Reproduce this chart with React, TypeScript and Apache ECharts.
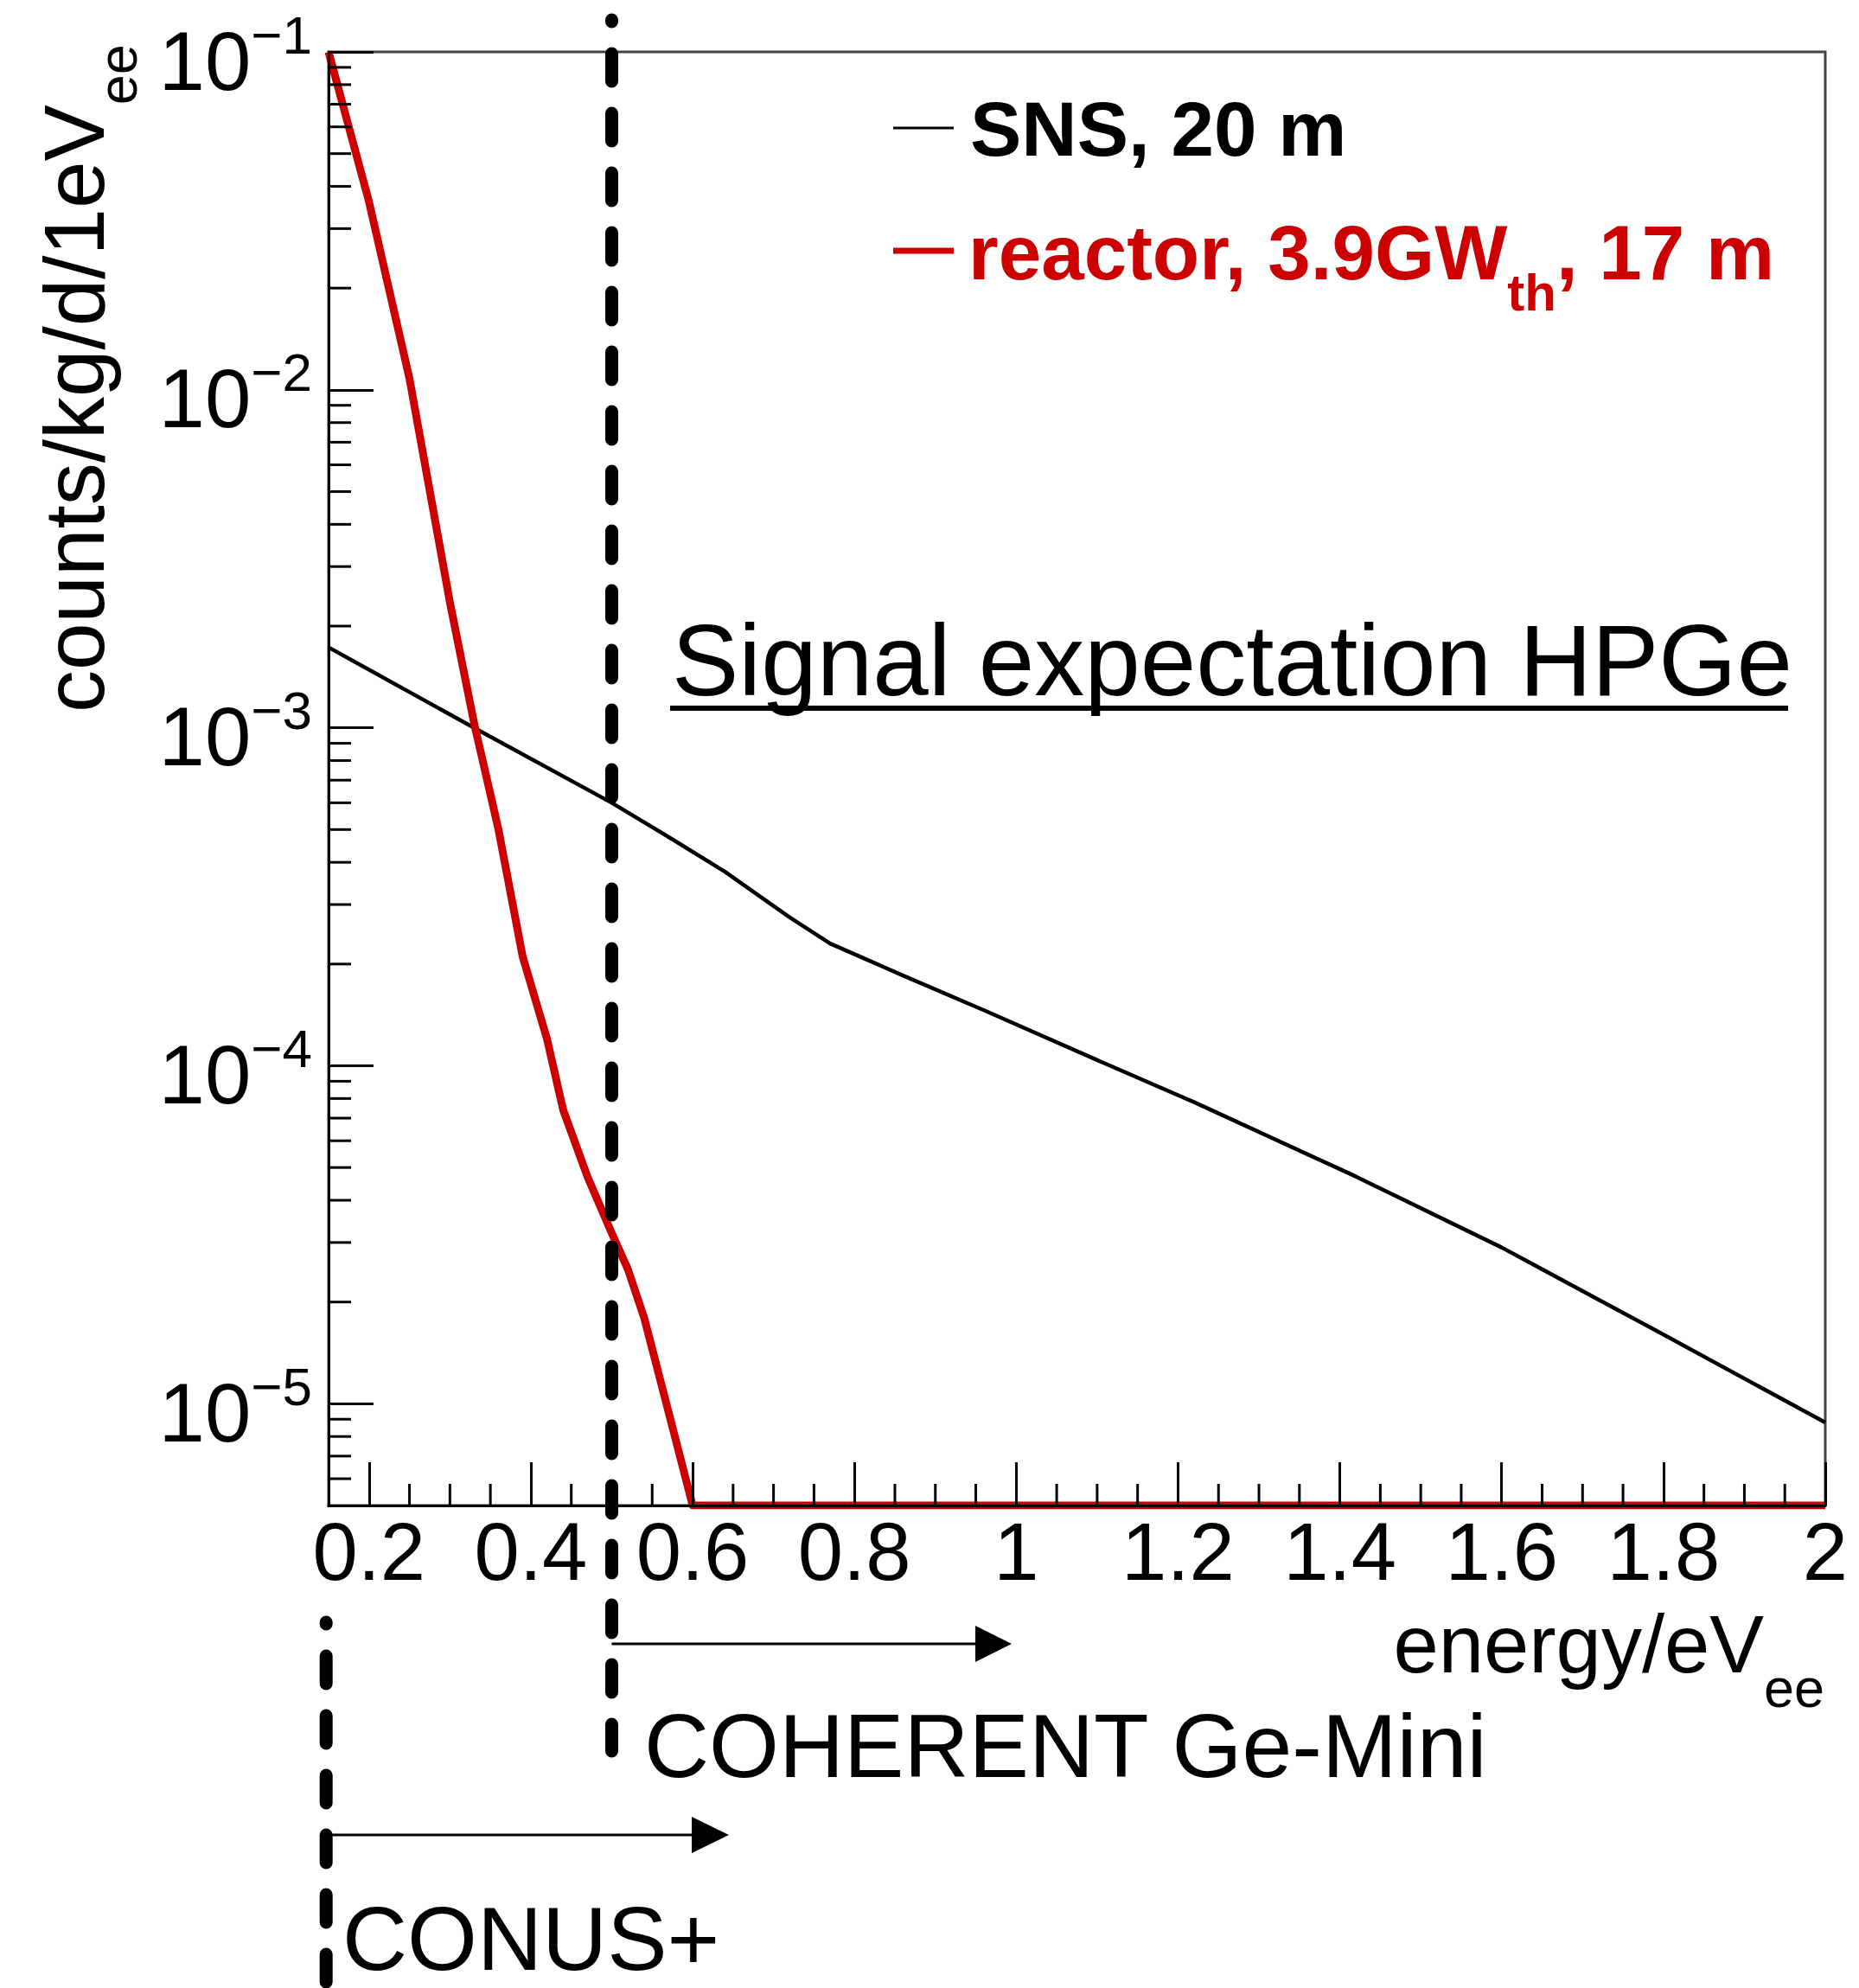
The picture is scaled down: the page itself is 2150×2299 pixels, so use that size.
import React, { useEffect, useRef } from 'react';
import * as echarts from 'echarts';

const FONT = '"Liberation Sans", Arial, Helvetica, sans-serif';

const X_MIN = 0.15;
const X_MAX = 2.0;
const Y_MIN = 5e-6;
const Y_MAX = 0.1;

// SNS, 20 m (black curve)
const snsEnergy = [0.15, 0.33, 0.5, 0.58, 0.64, 0.72, 0.77, 0.86, 0.96, 1.1, 1.22, 1.42, 1.6, 1.79, 2.0];
const snsCounts = [1.73e-3, 1.0e-3, 6.0e-4, 4.6e-4, 3.75e-4, 2.75e-4, 2.3e-4, 1.85e-4, 1.46e-4, 1.04e-4, 7.8e-5, 4.7e-5, 2.9e-5, 1.65e-5, 8.8e-6];

// reactor, 3.9 GW_th, 17 m (red curve); 0 = empty bins, drawn on the axis floor
const reactorEnergy = [0.15, 0.2, 0.25, 0.3, 0.33, 0.36, 0.39, 0.42, 0.44, 0.47, 0.5, 0.52, 0.54, 0.57, 0.6, 2.0];
const reactorCounts = [0.1, 0.036, 0.0108, 2.35e-3, 1.03e-3, 5.0e-4, 2.1e-4, 1.2e-4, 7.4e-5, 4.7e-5, 3.2e-5, 2.5e-5, 1.8e-5, 9.5e-6, 0, 0];

// axis ticks
const xMajorTicks = [0.2, 0.4, 0.6, 0.8, 1.0, 1.2, 1.4, 1.6, 1.8, 2.0];
const xMinorTicks = [
  0.25, 0.3, 0.35, 0.45, 0.5, 0.55, 0.65, 0.7, 0.75, 0.85, 0.9, 0.95,
  1.05, 1.1, 1.15, 1.25, 1.3, 1.35, 1.45, 1.5, 1.55, 1.65, 1.7, 1.75, 1.85, 1.9, 1.95,
];
const yMinorTicks = [
  6e-6, 7e-6, 8e-6, 9e-6,
  2e-5, 3e-5, 4e-5, 5e-5, 6e-5, 7e-5, 8e-5, 9e-5,
  2e-4, 3e-4, 4e-4, 5e-4, 6e-4, 7e-4, 8e-4, 9e-4,
  2e-3, 3e-3, 4e-3, 5e-3, 6e-3, 7e-3, 8e-3, 9e-3,
  2e-2, 3e-2, 4e-2, 5e-2, 6e-2, 7e-2, 8e-2, 9e-2,
];

// detector thresholds (energy / keVee)
const COHERENT_THRESHOLD = 0.5;
const CONUS_THRESHOLD = 0.147;

const RED = '#cc0000';

function buildGraphic(xc: number, xn: number) {
  const dash = {
    stroke: '#000',
    lineWidth: 15,
    lineDash: [32, 37],
    lineCap: 'round',
    lineDashOffset: 30,
  };
  return [
    { type: 'line', z: 50, shape: { x1: xc, y1: 23, x2: xc, y2: 2025 }, style: dash },
    { type: 'line', z: 50, shape: { x1: xn, y1: 1876, x2: xn, y2: 2330 }, style: dash },
    // arrows
    { type: 'line', z: 50, shape: { x1: xc, y1: 1901, x2: 1132, y2: 1901 }, style: { stroke: '#000', lineWidth: 3 } },
    { type: 'polygon', z: 50, shape: { points: [[1128, 1880], [1170, 1901], [1128, 1922]] }, style: { fill: '#000' } },
    { type: 'line', z: 50, shape: { x1: xn, y1: 2122, x2: 804, y2: 2122 }, style: { stroke: '#000', lineWidth: 3 } },
    { type: 'polygon', z: 50, shape: { points: [[800, 2101], [843, 2122], [800, 2143]] }, style: { fill: '#000' } },
    // annotation texts
    {
      type: 'text', z: 50, x: 745, y: 2019,
      style: { text: 'COHERENT Ge-Mini', fontSize: 104, lineHeight: 80, fontFamily: FONT, fill: '#000', verticalAlign: 'middle', align: 'left' },
    },
    {
      type: 'text', z: 50, x: 396, y: 2242,
      style: { text: 'CONUS+', fontSize: 104, lineHeight: 72, fontFamily: FONT, fill: '#000', verticalAlign: 'middle', align: 'left' },
    },
    // title in plot
    {
      type: 'text', z: 50, x: 777, y: 764,
      style: { text: 'Signal expectation HPGe', fontSize: 116, fontFamily: FONT, fill: '#000', verticalAlign: 'middle', align: 'left' },
    },
    { type: 'rect', z: 50, shape: { x: 775, y: 816, width: 1293, height: 6 }, style: { fill: '#000' } },
    // legend
    { type: 'line', z: 50, shape: { x1: 1033, y1: 148, x2: 1103, y2: 148 }, style: { stroke: '#000', lineWidth: 3 } },
    {
      type: 'text', z: 50, x: 1122, y: 149,
      style: { text: 'SNS, 20 m', fontSize: 89, fontWeight: 'bold', fontFamily: FONT, fill: '#000', verticalAlign: 'middle', align: 'left' },
    },
    { type: 'line', z: 50, shape: { x1: 1033, y1: 290, x2: 1103, y2: 290 }, style: { stroke: RED, lineWidth: 7 } },
    {
      type: 'text', z: 50, x: 1120, y: 292,
      style: {
        text: '{a|reactor, 3.9GW}{s|th}{a|, 17 m}',
        verticalAlign: 'middle', align: 'left',
        rich: {
          a: { fontSize: 89, lineHeight: 89, fontWeight: 'bold', fontFamily: FONT, fill: RED, color: RED },
          s: { fontSize: 60, lineHeight: 60, fontWeight: 'bold', fontFamily: FONT, fill: RED, color: RED, padding: [92, 0, 0, 0] },
        },
      },
    },
    // x axis title (main text + subscript as separate texts)
    {
      type: 'text', z: 50, x: 2040, y: 1901,
      style: { text: 'energy/eV', fontSize: 94, lineHeight: 80, fontFamily: FONT, fill: '#000', verticalAlign: 'middle', align: 'right' },
    },
    {
      type: 'text', z: 50, x: 2110, y: 1952,
      style: { text: 'ee', fontSize: 63, lineHeight: 50, fontFamily: FONT, fill: '#000', verticalAlign: 'middle', align: 'right' },
    },
    // y axis title
    {
      type: 'text', z: 50, x: 86, y: 824, rotation: Math.PI / 2,
      style: {
        text: '{a|counts/kg/d/1eV}{s|ee}',
        verticalAlign: 'middle', align: 'left',
        rich: {
          a: { fontSize: 98, lineHeight: 98, fontFamily: FONT, fill: '#000', color: '#000' },
          s: { fontSize: 63, lineHeight: 63, fontFamily: FONT, fill: '#000', color: '#000', padding: [100, 0, 0, 0] },
        },
      },
    },
  ];
}

export default function App() {
  const ref = useRef<HTMLDivElement>(null);

  useEffect(() => {
    if (!ref.current) return;
    const chart = echarts.init(ref.current, null, { renderer: 'svg' });

    const snsData = snsEnergy.map((e, i) => [e, snsCounts[i]]);
    const reactorData = reactorEnergy.map((e, i) => [e, reactorCounts[i] > 0 ? reactorCounts[i] : Y_MIN]);

    const option: any = {
      animation: false,
      backgroundColor: '#fff',
      grid: {
        left: 380,
        top: 60,
        right: 39,
        bottom: 558,
        show: true,
        borderColor: '#444',
        borderWidth: 3,
        backgroundColor: 'transparent',
        containLabel: false,
        outerBoundsMode: 'none',
      },
      xAxis: {
        type: 'value',
        min: X_MIN,
        max: X_MAX,
        z: 5,
        splitLine: { show: false },
        axisLine: { show: true, onZero: false, lineStyle: { color: '#000', width: 3 } },
        axisTick: {
          show: true,
          inside: true,
          length: 50,
          customValues: xMajorTicks,
          lineStyle: { color: '#000', width: 3 },
        },
        axisLabel: {
          show: true,
          customValues: xMajorTicks,
          margin: 6,
          fontSize: 94,
          lineHeight: 94,
          fontFamily: FONT,
          color: '#000',
          formatter: (v: number) => String(Math.round(v * 10) / 10),
        },
      },
      yAxis: {
        type: 'log',
        logBase: 10,
        min: Y_MIN,
        max: Y_MAX,
        z: 5,
        splitLine: { show: false },
        axisLine: { show: true, onZero: false, lineStyle: { color: '#000', width: 3 } },
        axisTick: {
          show: true,
          inside: true,
          length: 52,
          lineStyle: { color: '#000', width: 3 },
        },
        axisLabel: {
          show: true,
          interval: 0,
          margin: 19,
          hideOverlap: false,
          showMinLabel: true,
          showMaxLabel: true,
          formatter: (v: number) => {
            const e = Math.log10(v);
            const k = Math.round(e);
            if (Math.abs(e - k) > 1e-6) return '';
            const exp = k < 0 ? '\u2212' + String(-k) : String(k);
            return '{b|10}{s|' + exp + '}';
          },
          rich: {
            b: { fontSize: 96, lineHeight: 96, fontFamily: FONT, color: '#000', padding: [20, 0, 0, 0] },
            s: { fontSize: 62, lineHeight: 62, fontFamily: FONT, color: '#000', padding: [0, 0, 40, 0] },
          },
        },
      },
      series: [
        {
          name: 'SNS, 20 m',
          type: 'line',
          data: snsData,
          showSymbol: false,
          symbol: 'none',
          z: 3,
          lineStyle: { color: '#000', width: 4.5, join: 'round' },
          itemStyle: { color: '#000' },
        },
        {
          name: 'reactor, 3.9GWth, 17 m',
          type: 'line',
          data: reactorData,
          showSymbol: false,
          symbol: 'none',
          z: 3,
          lineStyle: { color: RED, width: 9, join: 'round' },
          itemStyle: { color: RED },
        },
        {
          name: 'yMinorTicks',
          type: 'custom',
          silent: true,
          z: 6,
          clip: false,
          data: yMinorTicks.map((v) => [X_MIN, v]),
          renderItem: (params: any, api: any) => {
            const p = api.coord([api.value(0), api.value(1)]);
            return {
              type: 'line',
              shape: { x1: p[0], y1: p[1], x2: p[0] + 26, y2: p[1] },
              style: { stroke: '#000', lineWidth: 3 },
            };
          },
        },
        {
          name: 'xMinorTicks',
          type: 'custom',
          silent: true,
          z: 6,
          clip: false,
          data: xMinorTicks.map((v) => [v, Y_MIN]),
          renderItem: (params: any, api: any) => {
            const p = api.coord([api.value(0), api.value(1)]);
            return {
              type: 'line',
              shape: { x1: p[0], y1: p[1], x2: p[0], y2: p[1] - 25 },
              style: { stroke: '#000', lineWidth: 3 },
            };
          },
        },
      ],
    };

    chart.setOption(option);
    const xc = chart.convertToPixel({ xAxisIndex: 0 }, COHERENT_THRESHOLD) as number;
    const xn = chart.convertToPixel({ xAxisIndex: 0 }, CONUS_THRESHOLD) as number;
    chart.setOption({ graphic: buildGraphic(xc, xn) });

    return () => {
      chart.dispose();
    };
  }, []);

  return (
    <div
      ref={ref}
      style={{ position: 'absolute', left: 0, top: 0, width: 2150, height: 2299, background: '#fff' }}
    />
  );
}
